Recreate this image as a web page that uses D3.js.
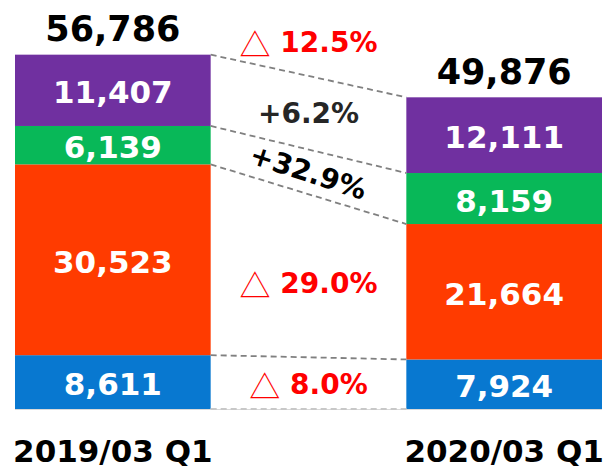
<!DOCTYPE html>
<html>
<head>
<meta charset="utf-8">
<script src="https://cdn.jsdelivr.net/npm/d3@7"></script>
<style>
  html, body { margin: 0; padding: 0; background: #fff; }
  svg { display: block; font-family: 'DejaVu Sans', Verdana, sans-serif; font-weight: bold; }
</style>
</head>
<body>
<div id="chart"></div>
<script>
const WIDTH = 607;
const HEIGHT = 475;
const MARGIN = { TOP: 54, RIGHT: 5, BOTTOM: 66, LEFT: 15 };

const PERIODS = ['2019/03 Q1', '2020/03 Q1'];
const SEGMENTS = ['blue', 'red', 'green', 'purple'];
const SEGMENT_COLORS = ['#0878D0', '#FF3B00', '#08B858', '#7030A0'];
const VALUES_2019 = [8611, 30523, 6139, 11407];
const VALUES_2020 = [7924, 21664, 8159, 12111];
const TOTALS = [56786, 49876];
// change labels, bottom to top, then the total
const CHANGE_LABELS = ['8.0%', '29.0%', '+32.9%', '+6.2%', '12.5%'];
const CHANGE_DOWN = [true, true, false, false, true];

const fmt = d3.format(',');

const svg = d3.select('#chart')
  .append('svg')
  .attr('width', WIDTH)
  .attr('height', HEIGHT);

const x = d3.scaleBand()
  .domain(PERIODS)
  .range([MARGIN.LEFT, WIDTH - MARGIN.RIGHT])
  .paddingInner(0.5)
  .paddingOuter(0);

const y = d3.scaleLinear()
  .domain([0, d3.max(TOTALS)])
  .range([HEIGHT - MARGIN.BOTTOM, MARGIN.TOP]);

// stack per period
const stack = PERIODS.map((period, p) => {
  const values = p === 0 ? VALUES_2019 : VALUES_2020;
  let acc = 0;
  return values.map((v, i) => {
    const y0 = acc;
    acc += v;
    return { period, key: SEGMENTS[i], value: v, y0, y1: acc, color: SEGMENT_COLORS[i] };
  });
});

// axis line
svg.append('line')
  .attr('x1', x.range()[0])
  .attr('x2', x.range()[1])
  .attr('y1', y(0) + 0.5)
  .attr('y2', y(0) + 0.5)
  .attr('stroke', '#d9d9d9')
  .attr('stroke-width', 1);

const bars = svg.append('g');
stack.forEach((segs) => {
  const g = bars.append('g');
  g.selectAll('rect')
    .data(segs)
    .join('rect')
    .attr('x', (d) => x(d.period))
    .attr('width', x.bandwidth())
    .attr('y', (d) => y(d.y1))
    .attr('height', (d) => y(d.y0) - y(d.y1))
    .attr('fill', (d) => d.color);

  g.selectAll('text')
    .data(segs)
    .join('text')
    .attr('x', (d) => x(d.period) + x.bandwidth() / 2)
    .attr('y', (d) => (y(d.y0) + y(d.y1)) / 2 + 13)
    .attr('text-anchor', 'middle')
    .attr('fill', '#fff')
    .style('font-size', '31px')
    .text((d) => fmt(d.value));
});

// totals
svg.append('g')
  .selectAll('text')
  .data(PERIODS)
  .join('text')
  .attr('x', (d) => x(d) + x.bandwidth() / 2)
  .attr('y', (d, i) => y(TOTALS[i]) - 13)
  .attr('text-anchor', 'middle')
  .attr('fill', '#000')
  .style('font-size', '35px')
  .text((d, i) => fmt(TOTALS[i]));

// connectors between boundaries
const leftX = x(PERIODS[0]) + x.bandwidth();
const rightX = x(PERIODS[1]);
const boundaries = [0].concat(stack[0].map((d) => d.y1)).map((v, i) => [
  v,
  i === 0 ? 0 : stack[1][i - 1].y1,
]);

svg.append('g')
  .selectAll('line')
  .data(boundaries)
  .join('line')
  .attr('x1', leftX)
  .attr('x2', rightX)
  .attr('y1', (d) => y(d[0]))
  .attr('y2', (d) => y(d[1]))
  .attr('stroke', (d, i) => (i === 0 ? '#c8c8c8' : '#808080'))
  .attr('stroke-width', 1.8)
  .attr('stroke-dasharray', '6,4');

// change labels
const midX = (leftX + rightX) / 2;
const lineMid = (b) => (y(b[0]) + y(b[1])) / 2;
const changePos = CHANGE_LABELS.map((label, i) => {
  if (i === CHANGE_LABELS.length - 1) {
    return { cy: lineMid(boundaries[boundaries.length - 1]) - 34 };
  }
  return { cy: (lineMid(boundaries[i]) + lineMid(boundaries[i + 1])) / 2 };
});
const CHANGE_DY = [1, 7, 0, 0, 0];
const CHANGE_ROTATE = [0, 0, 18, 0, 0];

const changes = svg.append('g')
  .selectAll('text')
  .data(CHANGE_LABELS)
  .join('text')
  .attr('transform', (d, i) =>
    `translate(${midX}, ${changePos[i].cy + CHANGE_DY[i]}) rotate(${CHANGE_ROTATE[i]})`)
  .attr('text-anchor', 'middle')
  .attr('dominant-baseline', 'central')
  .attr('fill', (d, i) => (CHANGE_DOWN[i] ? '#FF0000' : (i === 3 ? '#262626' : '#000')))
  .style('font-size', '28px');

changes.each(function (d, i) {
  const t = d3.select(this);
  if (CHANGE_DOWN[i]) {
    t.append('tspan')
      .style('font-weight', 'normal')
      .style('font-size', '31px')
      .style('font-family', "'Noto Sans CJK JP', 'DejaVu Sans', sans-serif")
      .text('△');
    t.append('tspan').text(' ');
  }
  t.append('tspan').text(d);
});

// category labels
svg.append('g')
  .selectAll('text')
  .data(PERIODS)
  .join('text')
  .attr('x', (d) => x(d) + x.bandwidth() / 2)
  .attr('y', y(0) + 53)
  .attr('text-anchor', 'middle')
  .attr('fill', '#000')
  .style('font-size', '31px')
  .text((d) => d);
</script>
</body>
</html>
